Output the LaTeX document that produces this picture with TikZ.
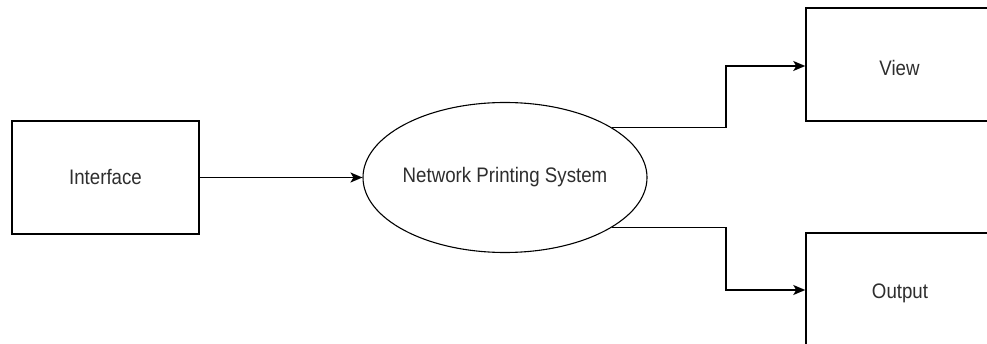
\documentclass[tikz,border=0pt]{standalone}
\usepackage{fontspec}
\setmainfont{Liberation Sans}
\usetikzlibrary{shapes.geometric,arrows.meta}
\definecolor{txt}{HTML}{2E2E2E}
\tikzset{
  box/.style={draw=black, line width=1.5pt, rectangle, minimum width=187pt, minimum height=113pt, inner sep=0pt},
  oval/.style={draw=black, line width=1.1pt, ellipse, minimum width=284pt, minimum height=150pt, inner sep=0pt},
  lbl/.style={text=txt, font=\fontsize{21}{24}\selectfont},
  conn/.style={line width=1.5pt, -{Stealth[length=12pt,width=10pt,inset=3pt]}},
}
\newcommand{\nx}[1]{\scalebox{0.89}[1]{#1}}
\begin{document}
\begin{tikzpicture}[x=1pt,y=-1pt]
\useasboundingbox[fill=white] (0,0) rectangle (987,344);
\begin{scope}
\clip (0,0) rectangle (987,344);
\node[box] (iface) at (105.5,177.5) {};
\node[lbl] at (iface.center) {\nx{Interface}};
\node[oval] (nps) at (505,177.5) {};
\node[lbl] at (nps.center) {\nx{Network Printing System}};
\node[box] (view) at (899.5,64.5) {};
\node[lbl] at (899.5,68) {\nx{View}};
\node[box] (out) at (899.5,289.5) {};
\node[lbl] at (900,293) {\nx{Output}};
\coordinate (vup) at (726,66);
\coordinate (vdn) at (726,290);
\draw[conn] (iface.east) -- (nps.west);
\draw[conn] (nps.25) -- (vup |- nps.25) -- (vup) -- (view.west |- vup);
\draw[conn] (nps.-25) -- (vdn |- nps.-25) -- (vdn) -- (out.west |- vdn);
\end{scope}
\end{tikzpicture}
\end{document}
